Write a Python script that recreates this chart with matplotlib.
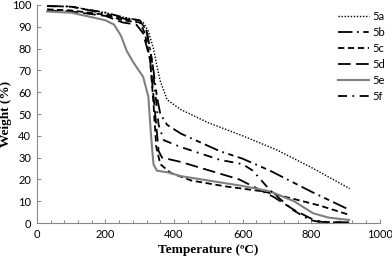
import numpy as np
import matplotlib
matplotlib.use("Agg")
import matplotlib.pyplot as plt
from matplotlib.ticker import MultipleLocator

# TGA curves: temperature (C) and weight (%)
t_5a = [30, 100, 200, 250, 290, 310, 325, 340, 350, 360, 380, 420, 500, 600, 700, 800, 912]
w_5a = [99.5, 99.3, 96.5, 94.5, 93.2, 92, 88, 80, 72, 65, 56.5, 52, 46, 40, 33.5, 25.5, 15.8]

t_5b = [30, 100, 200, 260, 300, 320, 330, 340, 350, 360, 380, 420, 533, 600, 680, 805, 912]
w_5b = [99.5, 99.3, 96, 93.5, 93, 88, 80, 70, 58, 50, 45, 41, 33, 29.5, 24, 14, 6]

t_5c = [30, 100, 200, 250, 300, 315, 330, 340, 348, 360, 390, 450, 550, 660, 750, 825, 912]
w_5c = [98, 97.5, 95.5, 93, 92, 87, 75, 55, 35, 27, 23, 19.5, 16.8, 14.5, 11, 8, 3.7]

t_5d = [30, 100, 200, 250, 290, 310, 330, 345, 355, 365, 420, 590, 690, 750, 800, 830, 910]
w_5d = [97.5, 97, 95, 92, 91, 87, 75, 50, 33, 30, 28, 20, 12, 6, 2, 0.5, 0.3]

t_5e = [30, 100, 200, 225, 245, 262, 280, 310, 325, 333, 340, 350, 380, 420, 500, 600, 680, 750, 805, 850, 910]
w_5e = [97, 96.5, 93, 91, 86, 79, 74, 67, 58, 40, 27, 24, 23.3, 21.5, 19.5, 17, 14.5, 10, 4.5, 2.5, 1.4]

t_5f = [30, 100, 200, 260, 300, 320, 335, 345, 355, 370, 417, 533, 600, 630, 680, 746, 796, 830, 910]
w_5f = [99.5, 99.2, 96.5, 94, 93, 88, 75, 60, 45, 38, 35, 29, 27, 24, 15, 6, 1.4, 0.3, 0.3]

labels = ["5a", "5b", "5c", "5d", "5e", "5f"]

fig = plt.figure(figsize=(3.92, 2.63), dpi=100)
ax = fig.add_axes([0.094, 0.152, 0.875, 0.829])

ax.plot(t_5a, w_5a, color="black", lw=1.0, ls=(0, (1, 1.2)), label=labels[0])
ax.plot(t_5b, w_5b, color="black", lw=1.3, ls=(0, (8, 2.5, 1, 2.5, 3, 2.5)), label=labels[1])
ax.plot(t_5c, w_5c, color="black", lw=1.3, ls=(0, (3.5, 2)), label=labels[2])
ax.plot(t_5d, w_5d, color="black", lw=1.3, ls=(0, (7, 3)), label=labels[3])
ax.plot(t_5e, w_5e, color="#808080", lw=1.5, ls="-", label=labels[4])
ax.plot(t_5f, w_5f, color="black", lw=1.3, ls=(0, (5, 3, 1, 3)), label=labels[5])

ax.set_xlim(0, 1000)
ax.set_ylim(0, 100)
ax.xaxis.set_major_locator(MultipleLocator(200))
ax.xaxis.set_minor_locator(MultipleLocator(40))
ax.yaxis.set_major_locator(MultipleLocator(10))

for s in ["top", "right"]:
    ax.spines[s].set_visible(False)
for s in ["left", "bottom"]:
    ax.spines[s].set_color("#888888")
    ax.spines[s].set_linewidth(0.8)

ax.tick_params(which="both", direction="in", color="#888888", width=0.7)
ax.tick_params(which="major", length=3, labelsize=8, pad=4)
ax.tick_params(which="minor", length=2.5)
for lab in ax.get_xticklabels() + ax.get_yticklabels():
    lab.set_family("Lato")

ax.set_xlabel("Temperature (ºC)", family="Liberation Serif", fontweight="bold", fontsize=9.5, labelpad=3)
ax.set_ylabel("Weight (%)", family="Liberation Serif", fontweight="bold", fontsize=9.5)
ax.yaxis.set_label_coords(-0.072, 0.5)

leg = ax.legend(loc="upper right", bbox_to_anchor=(1.0, 0.985), bbox_transform=fig.transFigure,
                frameon=False, fontsize=8, handlelength=2.8, handletextpad=0.3,
                labelspacing=0.45, borderaxespad=0.2)
for t in leg.get_texts():
    t.set_family("Lato")

fig.savefig("out.png", dpi=100)
